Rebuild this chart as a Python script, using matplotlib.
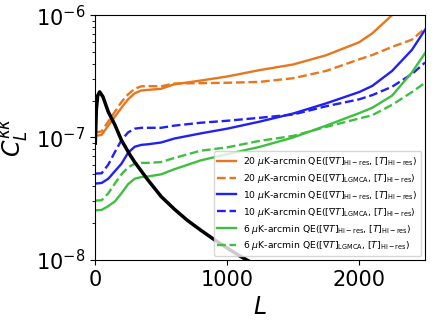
import matplotlib
matplotlib.use("Agg")
import matplotlib.pyplot as plt

# multipole grid for the noise curves
ell = [2, 50, 100, 150, 200, 250, 300, 350, 400, 500, 600, 800, 1000,
       1250, 1500, 1750, 2000, 2100, 2250, 2400, 2500]

n20_hires = [1.03e-7, 1.05e-7, 1.25e-7, 1.48e-7, 1.75e-7, 2.05e-7, 2.3e-7, 2.42e-7,
             2.45e-7, 2.5e-7, 2.72e-7, 2.92e-7, 3.15e-7, 3.56e-7, 3.95e-7, 4.7e-7,
             6.0e-7, 7.1e-7, 1.0e-6, 1.4e-6, 1.8e-6]
n20_lgmca = [1.1e-7, 1.12e-7, 1.35e-7, 1.62e-7, 1.95e-7, 2.25e-7, 2.5e-7, 2.62e-7,
             2.63e-7, 2.62e-7, 2.76e-7, 2.78e-7, 2.8e-7, 2.85e-7, 3.05e-7, 3.5e-7,
             4.35e-7, 4.72e-7, 5.5e-7, 6.3e-7, 7.8e-7]
n10_hires = [4.2e-8, 4.25e-8, 4.6e-8, 5.3e-8, 6.1e-8, 7.5e-8, 8.4e-8, 8.7e-8,
             8.8e-8, 9.1e-8, 9.8e-8, 1.08e-7, 1.18e-7, 1.35e-7, 1.57e-7, 1.9e-7,
             2.35e-7, 2.64e-7, 3.5e-7, 5.2e-7, 7.6e-7]
n10_lgmca = [5.07e-8, 5.1e-8, 6.0e-8, 7.6e-8, 9.5e-8, 1.1e-7, 1.18e-7, 1.2e-7,
             1.2e-7, 1.2e-7, 1.25e-7, 1.32e-7, 1.37e-7, 1.45e-7, 1.54e-7, 1.8e-7,
             2.05e-7, 2.22e-7, 2.6e-7, 3.3e-7, 4.1e-7]
n6_hires = [2.54e-8, 2.56e-8, 2.75e-8, 3.0e-8, 3.5e-8, 4.15e-8, 4.6e-8, 4.75e-8,
            4.8e-8, 5.0e-8, 5.5e-8, 6.5e-8, 7.3e-8, 8.4e-8, 1.0e-7, 1.25e-7,
            1.58e-7, 1.75e-7, 2.2e-7, 3.4e-7, 4.9e-7]
n6_lgmca = [3.05e-8, 3.07e-8, 3.5e-8, 4.2e-8, 5.0e-8, 5.7e-8, 6.1e-8, 6.2e-8,
            6.2e-8, 6.3e-8, 6.8e-8, 7.8e-8, 8.3e-8, 9.4e-8, 1.03e-7, 1.22e-7,
            1.43e-7, 1.52e-7, 1.85e-7, 2.35e-7, 2.8e-7]

# lensing convergence power spectrum
ell_kk = [2, 10, 20, 35, 60, 100, 150, 200, 265, 300, 400, 500, 600, 700, 800,
          900, 1000, 1100, 1200]
clkk = [9e-8, 1.7e-7, 2.2e-7, 2.36e-7, 2.15e-7, 1.62e-7, 1.27e-7, 9.5e-8, 7.2e-8,
        6.3e-8, 4.5e-8, 3.3e-8, 2.6e-8, 2.1e-8, 1.75e-8, 1.47e-8, 1.25e-8,
        1.07e-8, 0.93e-8]

orange = '#e8761e'
blue = '#2121f2'
green = '#3fbf3f'

hires = r'QE($[\nabla T]_{\rm Hi-res}$, $[T]_{\rm Hi-res}$)'
lgmca = r'QE($[\nabla T]_{\rm LGMCA}$, $[T]_{\rm Hi-res}$)'

fig, ax = plt.subplots(figsize=(4.36, 3.22), dpi=100)
fig.subplots_adjust(left=0.218, right=0.975, top=0.953, bottom=0.193)

ax.plot(ell, n20_hires, color=orange, lw=1.7, label=r'20 $\mu$K-arcmin ' + hires)
ax.plot(ell, n20_lgmca, color=orange, lw=1.7, ls='--', label=r'20 $\mu$K-arcmin ' + lgmca)
ax.plot(ell, n10_hires, color=blue, lw=1.7, label=r'10 $\mu$K-arcmin ' + hires)
ax.plot(ell, n10_lgmca, color=blue, lw=1.7, ls='--', label=r'10 $\mu$K-arcmin ' + lgmca)
ax.plot(ell, n6_hires, color=green, lw=1.7, label=r'6 $\mu$K-arcmin ' + hires)
ax.plot(ell, n6_lgmca, color=green, lw=1.7, ls='--', label=r'6 $\mu$K-arcmin ' + lgmca)
ax.plot(ell_kk, clkk, color='black', lw=2.5)

ax.set_yscale('log')
ax.set_xlim(0, 2500)
ax.set_ylim(1e-8, 1e-6)
ax.set_xticks([0, 1000, 2000])
ax.tick_params(labelsize=15)
ax.set_xlabel(r'$L$', fontsize=17)
ax.set_ylabel(r'$C_L^{\kappa\kappa}$', fontsize=17)
ax.legend(loc='lower right', fontsize=6.7, labelspacing=0.42,
          handlelength=2.0, borderpad=0.4, borderaxespad=0.4)

plt.savefig('out.png')
plt.close()
